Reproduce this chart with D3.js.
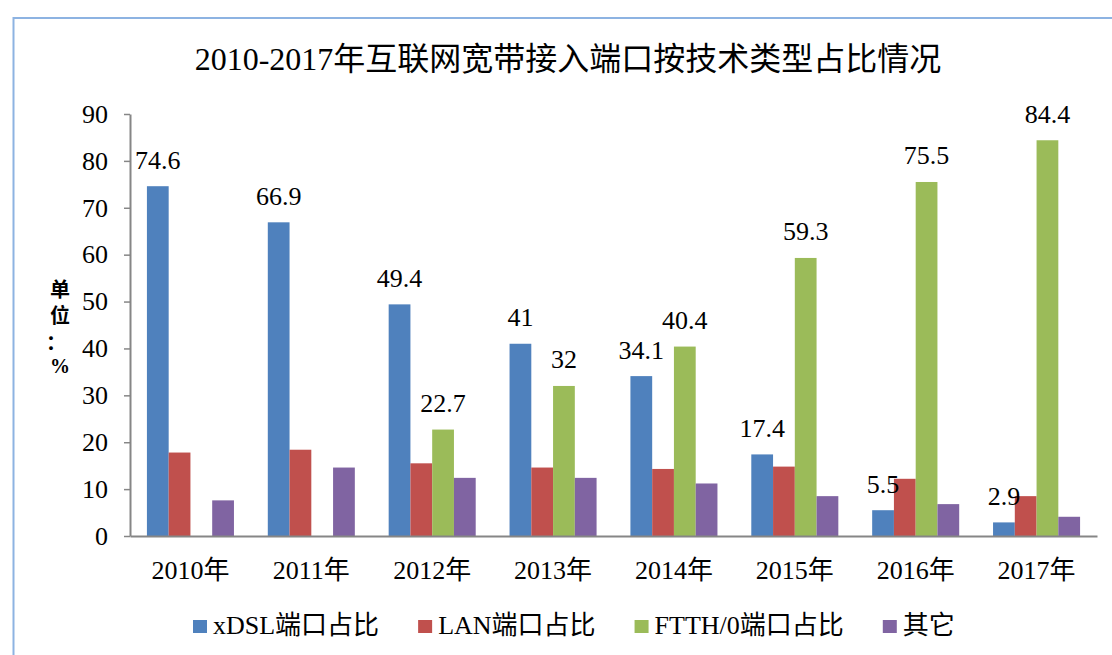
<!DOCTYPE html>
<html>
<head>
<meta charset="utf-8">
<script src="https://cdn.jsdelivr.net/npm/d3@7"></script>
<style>
  html, body { margin: 0; padding: 0; background: #fff; }
  svg { display: block; }
  text { font-family: 'Liberation Serif', 'Times New Roman', 'Noto Sans CJK SC', serif; fill: #000; }
</style>
</head>
<body>
<div id="chart"></div>
<script>
// data
const years = ['2010年', '2011年', '2012年', '2013年', '2014年', '2015年', '2016年', '2017年']
const seriesNames = ['xDSL端口占比', 'LAN端口占比', 'FTTH/0端口占比', '其它']
const xdsl = [74.6, 66.9, 49.4, 41, 34.1, 17.4, 5.5, 2.9]
const lan = [17.8, 18.4, 15.5, 14.6, 14.3, 14.8, 12.2, 8.5]
const ftth = [null, null, 22.7, 32, 40.4, 59.3, 75.5, 84.4]
const other = [7.6, 14.6, 12.4, 12.4, 11.2, 8.5, 6.8, 4.1]
const yTicks = [0, 10, 20, 30, 40, 50, 60, 70, 80, 90]
const labeled = ['xDSL端口占比', 'FTTH/0端口占比']   // series with data labels
const colors = ['#4F81BD', '#C0504D', '#9BBB59', '#8064A2']

const seriesValues = [xdsl, lan, ftth, other]

// dimensions
const dim = { width: 1112, height: 655 }
const plot = { left: 130, right: 1097, top: 114, bottom: 536 }

const svg = d3.select('#chart')
    .append('svg')
    .attr('width', dim.width)
    .attr('height', dim.height)

// outer frame (runs off the right and bottom edges)
svg.append('rect')
    .attr('x', 13.5).attr('y', 18)
    .attr('width', 1200).attr('height', 700)
    .attr('fill', 'none')
    .attr('stroke', '#8DB3E2')
    .attr('stroke-width', 2)

// scales
const xScale = d3.scaleBand()
    .domain(years)
    .range([plot.left, plot.right])

const step = xScale.step()
const xSub = d3.scaleBand()
    .domain(seriesNames)
    .range([step * 0.14, step * 0.86])

const yScale = d3.scaleLinear()
    .domain([0, 90])
    .range([plot.bottom, plot.top])

const colorScale = d3.scaleOrdinal()
    .domain(seriesNames)
    .range(colors)

// title
svg.append('text')
    .attr('x', 568).attr('y', 70)
    .attr('text-anchor', 'middle')
    .style('font-size', '32px')
    .text('2010-2017年互联网宽带接入端口按技术类型占比情况')

// y axis
const yAxis = svg.append('g')
    .attr('transform', `translate(${plot.left}, 0)`)
    .call(d3.axisLeft(yScale).tickValues(yTicks).tickSize(6).tickSizeOuter(0).tickPadding(16))
yAxis.select('.domain').attr('stroke', '#868686').attr('stroke-width', 2)
yAxis.selectAll('.tick line').attr('stroke', '#868686').attr('stroke-width', 1.5)
yAxis.selectAll('.tick text')
    .style('font-size', '26px')
    .style('font-family', "'Liberation Serif', 'Times New Roman', serif")
    .attr('fill', '#000')

// y axis unit label, stacked vertically
const unit = svg.append('text')
    .attr('text-anchor', 'middle')
    .style('font-size', '20px')
    .style('font-weight', 'bold')
const unitChars = ['单', '位', '：', '%']
const unitY = [297, 323, 350, 373]
unitChars.forEach((c, i) => {
    unit.append('tspan').attr('x', c === '：' ? 56 : 60).attr('y', unitY[i]).text(c)
})

// bars
const groups = svg.append('g')
    .selectAll('g')
    .data(seriesNames)
    .join('g')
    .attr('fill', d => colorScale(d))

groups.selectAll('rect')
    .data((name, si) => years.map((yr, i) => ({ name, yr, v: seriesValues[si][i] })).filter(d => d.v != null))
    .join('rect')
    .attr('x', d => xScale(d.yr) + xSub(d.name))
    .attr('y', d => yScale(d.v))
    .attr('width', xSub.bandwidth())
    .attr('height', d => yScale(0) - yScale(d.v))

// data labels
const labelData = []
seriesNames.forEach((name, si) => {
    if (!labeled.includes(name)) return
    years.forEach((yr, i) => {
        const v = seriesValues[si][i]
        if (v != null) labelData.push({ name, yr, v })
    })
})
svg.append('g')
    .selectAll('text')
    .data(labelData)
    .join('text')
    .attr('x', d => xScale(d.yr) + xSub(d.name) + xSub.bandwidth() / 2)
    .attr('y', d => yScale(d.v) - 17.5)
    .attr('text-anchor', 'middle')
    .style('font-size', '26px')
    .text(d => d.v)

// x axis
const xAxis = svg.append('g')
    .attr('transform', `translate(0, ${plot.bottom})`)
    .call(d3.axisBottom(xScale).tickSize(0).tickSizeOuter(0).tickPadding(25))
xAxis.select('.domain').attr('stroke', '#868686').attr('stroke-width', 2)
xAxis.selectAll('.tick text')
    .style('font-size', '26px')
    .style('font-family', "'Liberation Serif', 'Times New Roman', 'Noto Sans CJK SC', serif")
    .attr('fill', '#000')

// legend
const legend = svg.append('g')
let lx = 193
seriesNames.forEach((name, i) => {
    legend.append('rect')
        .attr('x', lx).attr('y', 620)
        .attr('width', 14).attr('height', 13)
        .attr('fill', colorScale(name))
    const t = legend.append('text')
        .attr('x', lx + 20).attr('y', 634)
        .style('font-size', '26px')
        .text(name)
    lx += 20 + t.node().getComputedTextLength() + 39
})
</script>
</body>
</html>
